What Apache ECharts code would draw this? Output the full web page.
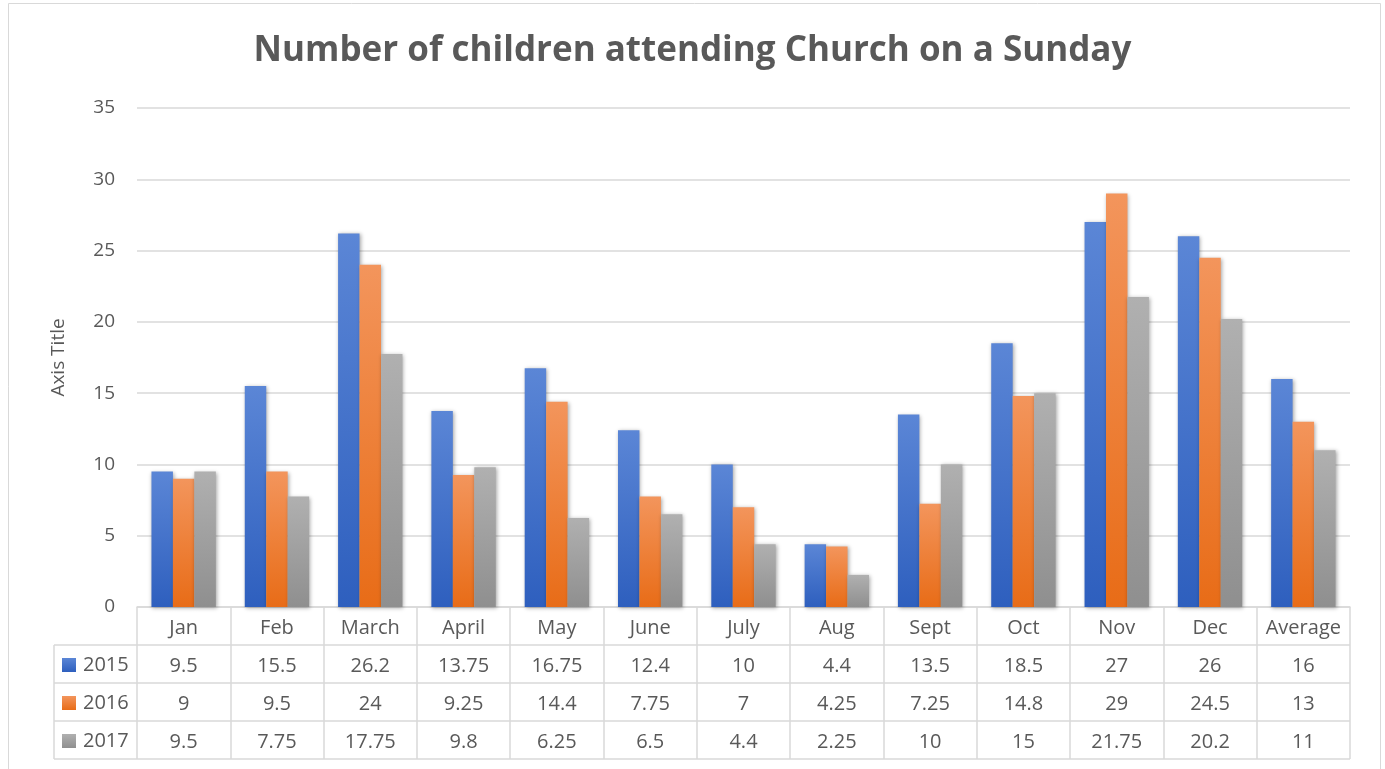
<!DOCTYPE html>
<html>
<head>
<meta charset="utf-8">
<script src="https://cdn.jsdelivr.net/npm/echarts@6/dist/echarts.min.js"></script>
<style>
  html, body { margin: 0; padding: 0; background: #fff; }
  #chart { width: 1385px; height: 769px; }
</style>
</head>
<body>
<div id="chart"></div>
<script>
const categories = ['Jan', 'Feb', 'March', 'April', 'May', 'June', 'July', 'Aug', 'Sept', 'Oct', 'Nov', 'Dec', 'Average']
const years = ['2015', '2016', '2017']
const values2015 = [9.5, 15.5, 26.2, 13.75, 16.75, 12.4, 10, 4.4, 13.5, 18.5, 27, 26, 16]
const values2016 = [9, 9.5, 24, 9.25, 14.4, 7.75, 7, 4.25, 7.25, 14.8, 29, 24.5, 13]
const values2017 = [9.5, 7.75, 17.75, 9.8, 6.25, 6.5, 4.4, 2.25, 10, 15, 21.75, 20.2, 11]
const yTicks = [0, 5, 10, 15, 20, 25, 30, 35]

const FONT = '"Open Sans", sans-serif'
const TEXT = '#595959'
const LINE = '#d9d9d9'

// plot area in px
const G = { left: 137, right: 1350, top: 108, bottom: 607 }
const ROW_H = 38
const TABLE_LEFT = 54

const grad = (top, bottom) => new echarts.graphic.LinearGradient(0, 0, 0, 1, [
  { offset: 0, color: top },
  { offset: 1, color: bottom },
])
const colors = [
  grad('#5b86d6', '#2e5fbe'),
  grad('#f3955c', '#e86c17'),
  grad('#b0b0b0', '#8f8f8f'),
]
const seriesValues = [values2015, values2016, values2017]

const chart = echarts.init(document.getElementById('chart'))

// data table lines + legend keys in the left column
const graphics = [
  { type: 'rect', shape: { x: 8.5, y: 3.5, width: 1372, height: 800 }, style: { fill: 'none', stroke: LINE, lineWidth: 1 }, silent: true },
  { type: 'line', shape: { x1: TABLE_LEFT, y1: G.bottom + ROW_H, x2: TABLE_LEFT, y2: G.bottom + 4 * ROW_H }, style: { stroke: LINE, lineWidth: 1.5 } },
]
for (let r = 1; r <= 4; r++) {
  const y = G.bottom + r * ROW_H
  graphics.push({ type: 'line', shape: { x1: TABLE_LEFT, y1: y, x2: G.right, y2: y }, style: { stroke: LINE, lineWidth: 1.5 } })
}
years.forEach((yr, i) => {
  const cy = G.bottom + (i + 1.5) * ROW_H + 1
  graphics.push({ type: 'rect', shape: { x: 62, y: cy - 7, width: 14, height: 14 }, style: { fill: colors[i] } })
  graphics.push({ type: 'text', x: 83, y: cy, style: { text: yr, font: '20px ' + FONT, fill: TEXT, verticalAlign: 'middle' } })
})

chart.setOption({
  backgroundColor: '#fff',
  animation: false,
  title: {
    text: 'Number of children attending Church on a Sunday',
    left: 'center',
    top: 29,
    textStyle: { color: TEXT, fontFamily: FONT, fontWeight: 'bold', fontSize: 35 },
  },
  grid: {
    left: G.left,
    right: 1385 - G.right,
    top: G.top,
    bottom: 769 - G.bottom,
  },
  xAxis: {
    type: 'category',
    data: categories,
    axisLine: { lineStyle: { color: LINE, width: 1.5 } },
    axisTick: { show: true, alignWithLabel: false, length: 4 * ROW_H, lineStyle: { color: LINE, width: 1.5 } },
    axisLabel: {
      margin: 2,
      interval: 0,
      color: TEXT,
      fontFamily: FONT,
      fontSize: 20,
      lineHeight: ROW_H,
      formatter: (v, idx) => [v, values2015[idx], values2016[idx], values2017[idx]].join('\n'),
    },
  },
  yAxis: {
    type: 'value',
    min: 0,
    max: yTicks[yTicks.length - 1],
    interval: 5,
    name: 'Axis Title',
    nameLocation: 'middle',
    nameGap: 69,
    nameTextStyle: { color: TEXT, fontFamily: FONT, fontSize: 19 },
    axisLine: { show: false },
    axisTick: { show: false },
    axisLabel: { color: TEXT, fontFamily: FONT, fontSize: 19, margin: 22 },
    splitLine: { lineStyle: { color: LINE, width: 1.5 } },
  },
  series: years.map((yr, i) => ({
    name: yr,
    type: 'bar',
    data: seriesValues[i],
    barGap: '0%',
    barCategoryGap: '31%',
    itemStyle: {
      color: colors[i],
      shadowBlur: 4,
      shadowColor: 'rgba(0,0,0,0.35)',
      shadowOffsetX: 1,
      shadowOffsetY: 1,
    },
  })),
  graphic: graphics,
})
</script>
</body>
</html>
